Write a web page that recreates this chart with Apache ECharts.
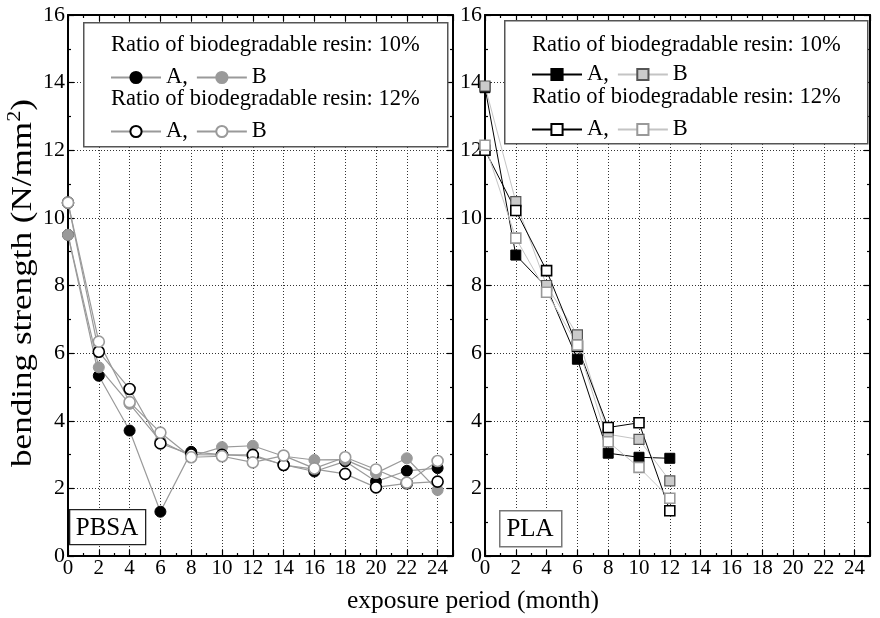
<!DOCTYPE html>
<html>
<head>
<meta charset="utf-8">
<title>Bending strength vs exposure period</title>
<script src="https://cdn.jsdelivr.net/npm/echarts@6/dist/echarts.min.js"></script>
<style>
  html, body { margin: 0; padding: 0; background: #fff; }
  #chart { width: 880px; height: 618px; }
</style>
</head>
<body>
<div id="chart"></div>
<script>
// Exposure months
const pbsaMonths = [0, 2, 4, 6, 8, 10, 12, 14, 16, 18, 20, 22, 24];
const plaMonths = [0, 2, 4, 6, 8, 10, 12];

// PBSA bending strength (N/mm2)
const pbsaA10 = [9.5, 5.33, 3.71, 1.31, 3.08, 3.0, 2.95, 2.7, 2.5, 2.8, 2.2, 2.52, 2.6];
const pbsaB10 = [9.5, 5.58, 4.5, 3.4, 2.95, 3.22, 3.26, 2.95, 2.84, 2.85, 2.45, 2.89, 1.95];
const pbsaA12 = [10.45, 6.04, 4.94, 3.33, 3.0, 2.99, 2.99, 2.69, 2.57, 2.43, 2.03, 2.15, 2.2];
const pbsaB12 = [10.45, 6.34, 4.55, 3.65, 2.92, 2.95, 2.77, 2.97, 2.59, 2.92, 2.56, 2.17, 2.81];

// PLA bending strength (N/mm2)
const plaA10 = [13.85, 8.9, 7.95, 5.82, 3.04, 2.92, 2.89];
const plaB10 = [13.9, 10.48, 8.0, 6.54, 3.6, 3.45, 2.22];
const plaA12 = [12.0, 10.22, 8.44, 6.2, 3.8, 3.94, 1.34];
const plaB12 = [12.15, 9.4, 7.8, 6.24, 3.38, 2.62, 1.71];

// Axis tick values
const xTicks = { min: 0, max: 25, interval: 2 };
const yTicks = { min: 0, max: 16, interval: 2 };

const FONT = 'Liberation Serif';
const pairs = (xs, ys) => ys.map((v, i) => [xs[i], v]);

const chart = echarts.init(document.getElementById('chart'), null, { renderer: 'canvas' });

const axisLineStyle = { color: '#000', width: 2 };
const tickStyle = { color: '#000', width: 1.2 };
const gridDots = { color: '#333', width: 1, type: [1, 2] };

function xAxisFor(gridIndex, position) {
  const main = position === 'bottom';
  return {
    type: 'value', gridIndex, position,
    min: xTicks.min, max: xTicks.max, interval: xTicks.interval,
    axisLine: { show: true, onZero: false, lineStyle: axisLineStyle },
    axisTick: { show: true, inside: true, length: 6, lineStyle: tickStyle },
    minorTick: { show: true, splitNumber: 2, length: 3, lineStyle: tickStyle },
    axisLabel: {
      show: main, showMaxLabel: false, margin: 2,
      fontFamily: FONT, fontSize: 21, color: '#000'
    },
    splitLine: { show: main, lineStyle: gridDots },
    minorSplitLine: { show: false }
  };
}

function yAxisFor(gridIndex, position) {
  const main = position === 'left';
  return {
    type: 'value', gridIndex, position,
    min: yTicks.min, max: yTicks.max, interval: yTicks.interval,
    axisLine: { show: true, onZero: false, lineStyle: axisLineStyle },
    axisTick: { show: true, inside: true, length: 6, lineStyle: tickStyle },
    minorTick: { show: true, splitNumber: 2, length: 3, lineStyle: tickStyle },
    axisLabel: {
      show: main, margin: 3,
      fontFamily: FONT, fontSize: 22, color: '#000'
    },
    splitLine: { show: main, lineStyle: gridDots }
  };
}

function lineSeries(name, xIdx, yIdx, xs, ys, symbol, size, item, lineColor, lineWidth) {
  return {
    name, type: 'line',
    xAxisIndex: xIdx, yAxisIndex: yIdx,
    data: pairs(xs, ys),
    symbol, symbolSize: size,
    itemStyle: item,
    lineStyle: { color: lineColor, width: lineWidth },
    emphasis: { disabled: true },
    z: 3
  };
}

const gray = '#9a9a9a';
const series = [
  // PBSA panel
  lineSeries('PBSA 10% A', 0, 0, pbsaMonths, pbsaA10, 'circle', 11,
    { color: '#000', borderColor: '#000', borderWidth: 1 }, gray, 1.2),
  lineSeries('PBSA 10% B', 0, 0, pbsaMonths, pbsaB10, 'circle', 11,
    { color: gray, borderColor: gray, borderWidth: 1 }, gray, 1.2),
  lineSeries('PBSA 12% A', 0, 0, pbsaMonths, pbsaA12, 'circle', 11,
    { color: '#fff', borderColor: '#000', borderWidth: 1.6 }, gray, 1.2),
  lineSeries('PBSA 12% B', 0, 0, pbsaMonths, pbsaB12, 'circle', 11,
    { color: '#fff', borderColor: gray, borderWidth: 1.6 }, gray, 1.2),
  // PLA panel
  lineSeries('PLA 10% A', 2, 2, plaMonths, plaA10, 'rect', 10,
    { color: '#000', borderColor: '#000', borderWidth: 1 }, '#000', 1),
  lineSeries('PLA 10% B', 2, 2, plaMonths, plaB10, 'rect', 10,
    { color: '#cbcbcb', borderColor: '#555', borderWidth: 1.2 }, '#c4c4c4', 1),
  lineSeries('PLA 12% A', 2, 2, plaMonths, plaA12, 'rect', 10,
    { color: '#fff', borderColor: '#000', borderWidth: 1.6 }, '#000', 1),
  lineSeries('PLA 12% B', 2, 2, plaMonths, plaB12, 'rect', 10,
    { color: '#fff', borderColor: '#999', borderWidth: 1.6 }, '#c4c4c4', 1)
];

function legendRow(names, left, top) {
  return {
    data: names, left, top, orient: 'horizontal',
    padding: 0, itemWidth: 50, itemHeight: 14, itemGap: 8,
    selectedMode: false,
    formatter: n => (n.slice(-1) === 'A' ? 'A,' : 'B'),
    textStyle: { fontFamily: FONT, fontSize: 22.5, color: '#000' },
    z: 6
  };
}

const headerStyle = { fontFamily: FONT, fontSize: 22.5, fill: '#000' };

const graphic = [
  // legend frames
  { type: 'rect', left: 83, top: 22, shape: { width: 364, height: 124 },
    style: { fill: '#fff', stroke: '#555', lineWidth: 1.5 }, z: 1 },
  { type: 'rect', left: 504, top: 20, shape: { width: 363, height: 123 },
    style: { fill: '#fff', stroke: '#555', lineWidth: 1.5 }, z: 1 },
  // legend headers
  { type: 'text', x: 111, y: 45, style: Object.assign({ text: 'Ratio of biodegradable resin: 10%', verticalAlign: 'middle' }, headerStyle), z: 6 },
  { type: 'text', x: 111, y: 99, style: Object.assign({ text: 'Ratio of biodegradable resin: 12%', verticalAlign: 'middle' }, headerStyle), z: 6 },
  { type: 'text', x: 532, y: 45, style: Object.assign({ text: 'Ratio of biodegradable resin: 10%', verticalAlign: 'middle' }, headerStyle), z: 6 },
  { type: 'text', x: 532, y: 97, style: Object.assign({ text: 'Ratio of biodegradable resin: 12%', verticalAlign: 'middle' }, headerStyle), z: 6 },
  // panel tags
  { type: 'rect', left: 69, top: 509, shape: { width: 76, height: 35 },
    style: { fill: '#fff', stroke: '#222', lineWidth: 1.3 }, z: 1 },
  { type: 'text', x: 107, y: 528, style: { text: 'PBSA', fontFamily: FONT, fontSize: 25, fill: '#000', align: 'center', verticalAlign: 'middle' }, z: 6 },
  { type: 'rect', left: 499, top: 510, shape: { width: 62, height: 36 },
    style: { fill: '#fff', stroke: '#777', lineWidth: 1.5 }, z: 1 },
  { type: 'text', x: 530, y: 529, style: { text: 'PLA', fontFamily: FONT, fontSize: 25, fill: '#000', align: 'center', verticalAlign: 'middle' }, z: 6 },
  // axis titles
  { type: 'text', x: 473, y: 601, style: { text: 'exposure period (month)', fontFamily: FONT, fontSize: 25.5, fill: '#000', align: 'center', verticalAlign: 'middle' } },
  { type: 'text', x: 22, y: 283, rotation: Math.PI / 2, scaleX: 1.17,
    style: {
      text: '{a|bending strength (N/mm}{s|2}{a|)}',
      align: 'center', verticalAlign: 'middle',
      rich: {
        a: { fontFamily: FONT, fontSize: 30, fill: '#000', lineHeight: 32, verticalAlign: 'bottom' },
        s: { fontFamily: FONT, fontSize: 19, fill: '#000', lineHeight: 32, verticalAlign: 'top' }
      }
    } }
];

chart.setOption({
  animation: false,
  backgroundColor: '#fff',
  grid: [
    { left: 68, right: 427, top: 15, bottom: 62 },
    { left: 485, right: 10, top: 15, bottom: 62 }
  ],
  xAxis: [xAxisFor(0, 'bottom'), xAxisFor(0, 'top'), xAxisFor(1, 'bottom'), xAxisFor(1, 'top')],
  yAxis: [yAxisFor(0, 'left'), yAxisFor(0, 'right'), yAxisFor(1, 'left'), yAxisFor(1, 'right')],
  legend: [
    legendRow(['PBSA 10% A', 'PBSA 10% B'], 110, 66),
    legendRow(['PBSA 12% A', 'PBSA 12% B'], 110, 120),
    legendRow(['PLA 10% A', 'PLA 10% B'], 531, 63),
    legendRow(['PLA 12% A', 'PLA 12% B'], 531, 118)
  ],
  graphic,
  series
});
</script>
</body>
</html>
